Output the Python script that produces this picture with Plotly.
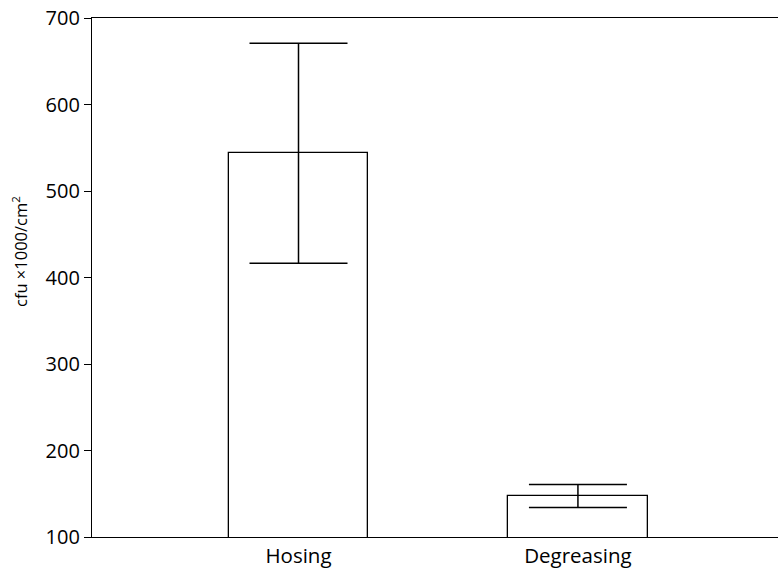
import plotly.graph_objects as go

categories = ["Hosing", "Degreasing"]
means = [543.7, 147.1]
err_plus = [127.0, 13.5]
err_minus = [127.3, 13.1]
y_ticks = [100, 200, 300, 400, 500, 600, 700]
y_title = "cfu ×1000/cm<sup>2</sup>"

fig = go.Figure()
fig.add_trace(go.Bar(
    x=categories, y=means, width=0.5,
    marker=dict(color="white", line=dict(color="black", width=1.3)),
    error_y=dict(type="data", symmetric=False, array=err_plus, arrayminus=err_minus,
                 color="black", thickness=1.5, width=49),
    showlegend=False,
))

font = "Open Sans, Noto Sans, DejaVu Sans, sans-serif"
fig.update_layout(
    width=778, height=574,
    margin=dict(l=92, r=0, t=18, b=37, autoexpand=False),
    paper_bgcolor="white", plot_bgcolor="white",
    font=dict(family=font, size=20, color="black"),
    bargap=0,
    annotations=[dict(
        text=y_title, textangle=-90, xref="paper", yref="paper",
        x=-0.105, y=0.551, xanchor="center", yanchor="middle",
        showarrow=False, font=dict(size=16.5),
    )],
)
fig.update_xaxes(
    range=[-0.739, 1.716], showline=True, linecolor="black", linewidth=1.3,
    mirror=True, ticks="", showgrid=False, tickfont=dict(size=20.5),
)
fig.update_yaxes(
    range=[100, 700], tickvals=y_ticks, showline=True, linecolor="black", linewidth=1.3,
    ticks="outside", ticklen=7, tickwidth=1.2, tickcolor="black", showgrid=False,
    zeroline=False, tickfont=dict(size=20), automargin=False, ticklabeloverflow="allow",
)
fig.write_html("out.html", config={"displayModeBar": False},
               post_script="document.body.style.margin='0';")
